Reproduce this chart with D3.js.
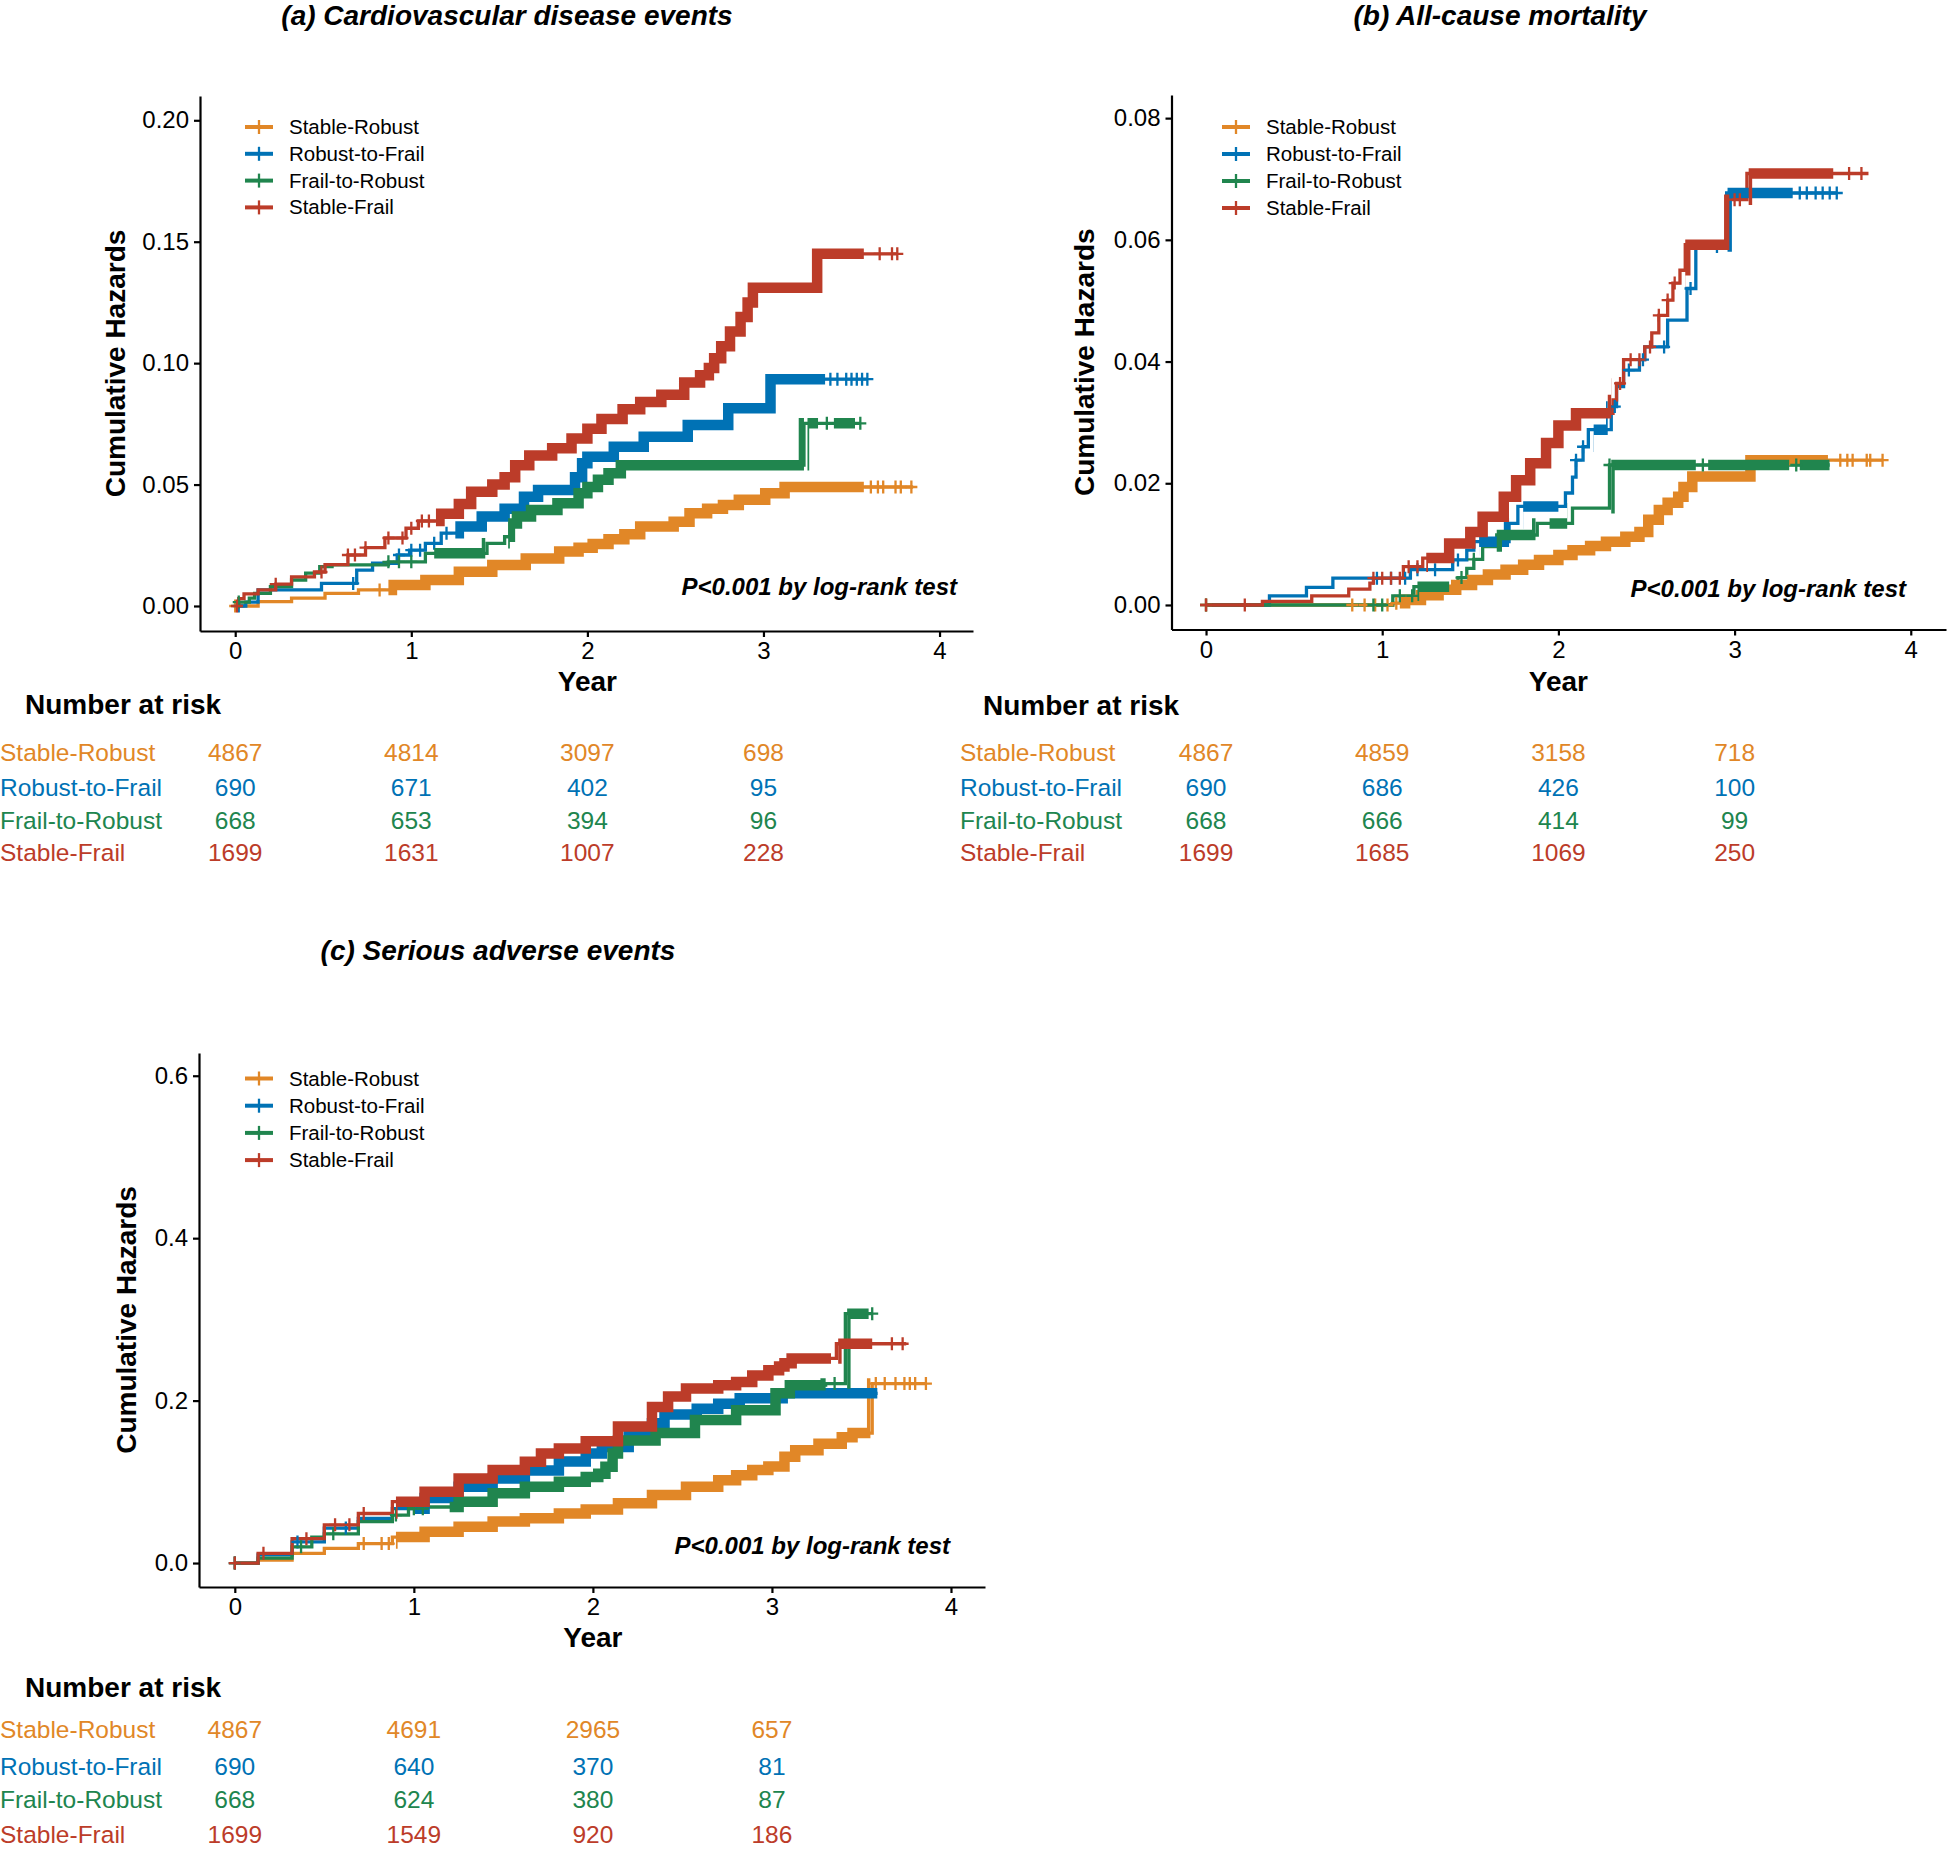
<!DOCTYPE html>
<html>
<head>
<meta charset="utf-8">
<script src="https://cdn.jsdelivr.net/npm/d3@7"></script>
<style>
  body { margin: 0; background: #fff; }
  text { font-family: "Liberation Sans", Arial, Helvetica, sans-serif; }
</style>
</head>
<body>
<div id="chart"></div>
<script>
// groups and tick labels
const groups = ["Stable-Robust", "Robust-to-Frail", "Frail-to-Robust", "Stable-Frail"];
const colors = ["#E18727", "#0072B5", "#20854E", "#BC3C29"];
const years = [0, 1, 2, 3, 4];

// (a) cardiovascular disease events: step points [year, cumulative hazard]
const cvdSR = [[0,0],[0.13,0.0018],[0.32,0.0032],[0.51,0.0052],[0.70,0.0066],[0.89,0.0086],[1.08,0.0107],[1.27,0.0141],[1.46,0.0169],[1.65,0.0196],[1.84,0.0224],[1.95,0.024],[2.03,0.0255],[2.12,0.0275],[2.21,0.0295],[2.30,0.0327],[2.49,0.0347],[2.58,0.0382],[2.68,0.040],[2.77,0.0416],[2.86,0.0437],[3.01,0.0464],[3.12,0.049],[3.85,0.049]];
const cvdRF = [[0,0],[0.06,0.0016],[0.13,0.0066],[0.49,0.0093],[0.69,0.0148],[0.78,0.0176],[0.92,0.021],[0.99,0.023],[1.08,0.0258],[1.17,0.030],[1.27,0.0327],[1.40,0.0368],[1.53,0.040],[1.64,0.045],[1.72,0.0478],[1.93,0.053],[1.97,0.0588],[2.0,0.0615],[2.15,0.0656],[2.32,0.0697],[2.57,0.0745],[2.80,0.0814],[3.04,0.0934],[3.59,0.0934]];
const cvdFR = [[0,0],[0.02,0.0016],[0.08,0.0032],[0.11,0.0052],[0.2,0.008],[0.32,0.0107],[0.40,0.0135],[0.48,0.0162],[0.55,0.0169],[0.87,0.0182],[1.08,0.0217],[1.43,0.0258],[1.53,0.0285],[1.56,0.034],[1.60,0.0368],[1.68,0.0395],[1.83,0.0423],[1.95,0.0464],[2.0,0.049],[2.06,0.052],[2.12,0.0547],[2.19,0.058],[3.23,0.0752],[3.55,0.0752]];
const cvdSF = [[0,0],[0.02,0.003],[0.05,0.005],[0.13,0.0066],[0.23,0.009],[0.32,0.012],[0.45,0.014],[0.51,0.017],[0.64,0.021],[0.74,0.024],[0.85,0.028],[0.97,0.032],[1.04,0.035],[1.16,0.038],[1.27,0.042],[1.34,0.047],[1.46,0.050],[1.53,0.053],[1.59,0.058],[1.67,0.062],[1.80,0.065],[1.91,0.069],[2.00,0.073],[2.08,0.077],[2.20,0.081],[2.30,0.084],[2.42,0.087],[2.55,0.092],[2.64,0.095],[2.69,0.098],[2.72,0.102],[2.76,0.107],[2.81,0.113],[2.87,0.119],[2.91,0.125],[2.94,0.131],[3.305,0.145],[3.76,0.145]];
// censor marks (single) and stretches where marks are packed into a band
const cvdCensor = [
  [0, 0.82, 3.61, 3.65, 3.68, 3.75, 3.78, 3.84],
  [0.02, 0.67, 0.93, 1.0, 1.05, 1.13, 1.2, 3.38, 3.42, 3.47, 3.5, 3.53, 3.56, 3.59],
  [0.02, 0.87, 0.93, 1.0, 3.36, 3.55],
  [0.01, 0.23, 0.49, 0.64, 0.68, 0.74, 0.87, 0.95, 1.0, 1.06, 1.1, 3.66, 3.73, 3.76]
];
const cvdDense = [
  [[0.87, 3.57]],
  [[1.25, 3.35]],
  [[1.13, 1.42], [1.55, 3.23], [3.25, 3.31], [3.4, 3.52]],
  [[1.14, 3.57]]
];
const cvdAtRisk = [[4867, 4814, 3097, 698], [690, 671, 402, 95], [668, 653, 394, 96], [1699, 1631, 1007, 228]];
const cvdYTicks = [0, 0.05, 0.10, 0.15, 0.20];

// (b) all-cause mortality
const acmSR = [[0,0],[1.06,0.0003],[1.13,0.0008],[1.22,0.0016],[1.32,0.0025],[1.42,0.0033],[1.51,0.0041],[1.6,0.005],[1.7,0.0058],[1.8,0.0066],[1.89,0.0074],[2.0,0.0082],[2.08,0.009],[2.18,0.0097],[2.27,0.0104],[2.38,0.0112],[2.46,0.012],[2.51,0.014],[2.57,0.0156],[2.62,0.0168],[2.68,0.0178],[2.71,0.0194],[2.76,0.0211],[3.09,0.0238],[3.84,0.0238]];
const acmRF = [[0,0],[0.36,0.0015],[0.57,0.0029],[0.72,0.0044],[1.16,0.0058],[1.40,0.0074],[1.48,0.009],[1.52,0.0104],[1.72,0.0134],[1.77,0.0162],[2.04,0.0184],[2.08,0.021],[2.10,0.0238],[2.14,0.026],[2.17,0.0288],[2.30,0.0326],[2.33,0.0359],[2.37,0.0386],[2.46,0.0403],[2.49,0.0424],[2.62,0.0468],[2.73,0.052],[2.78,0.0589],[2.955,0.0677],[3.58,0.0677]];
const acmFR = [[0,0],[1.06,0.0015],[1.18,0.003],[1.43,0.0045],[1.48,0.006],[1.52,0.0075],[1.57,0.0096],[1.65,0.0115],[1.88,0.0134],[2.08,0.0159],[2.29,0.023],[3.54,0.023]];
const acmSF = [[0,0],[0.32,0.0006],[0.6,0.0015],[0.81,0.0026],[0.93,0.0036],[0.95,0.0044],[1.12,0.0063],[1.23,0.0077],[1.38,0.0101],[1.5,0.012],[1.57,0.0145],[1.69,0.0178],[1.76,0.0205],[1.84,0.0233],[1.93,0.0266],[2.0,0.0295],[2.1,0.0315],[2.31,0.0337],[2.33,0.0364],[2.37,0.0403],[2.49,0.0424],[2.53,0.0447],[2.57,0.0476],[2.62,0.0501],[2.65,0.0529],[2.69,0.055],[2.72,0.0592],[2.97,0.0666],[3.07,0.0709],[3.76,0.0709]];
const acmCensor = [
  [0, 0.83, 0.9, 0.96, 1.03, 1.08, 3.6, 3.64, 3.67, 3.75, 3.77, 3.84],
  [0.97, 1.05, 1.13, 1.2, 1.3, 1.43, 2.1, 2.14, 2.32, 2.4, 2.48, 2.6, 2.75, 2.9, 3.37, 3.41, 3.46, 3.5, 3.54, 3.58],
  [0, 0.95, 1.0, 1.1, 1.17, 1.45, 1.52, 2.29, 2.82, 3.35],
  [0, 0.22, 0.95, 1.0, 1.05, 1.1, 1.15, 1.2, 2.35, 2.41, 2.46, 2.52, 2.57, 2.62, 2.66, 3.0, 3.03, 3.65, 3.72]
];
const acmDense = [
  [[1.1, 3.53]],
  [[1.55, 1.72], [1.8, 2.0], [2.2, 2.28], [2.96, 3.33]],
  [[1.2, 1.38], [1.65, 1.87], [1.95, 2.05], [2.3, 2.78], [2.85, 3.31], [3.37, 3.54]],
  [[1.25, 2.3], [2.72, 2.97], [3.08, 3.56]]
];
const acmAtRisk = [[4867, 4859, 3158, 718], [690, 686, 426, 100], [668, 666, 414, 99], [1699, 1685, 1069, 250]];
const acmYTicks = [0, 0.02, 0.04, 0.06, 0.08];

// (c) serious adverse events
const saeSR = [[0,0],[0.13,0.0037],[0.32,0.012],[0.5,0.018],[0.69,0.024],[0.88,0.032],[1.06,0.0385],[1.25,0.0447],[1.44,0.051],[1.62,0.055],[1.81,0.061],[1.96,0.066],[2.14,0.0735],[2.33,0.0837],[2.52,0.094],[2.7,0.102],[2.8,0.108],[2.89,0.1145],[2.98,0.119],[3.07,0.131],[3.13,0.139],[3.26,0.147],[3.39,0.155],[3.45,0.16],[3.56,0.221],[3.86,0.221]];
const saeRF = [[0,0],[0.13,0.01],[0.32,0.026],[0.5,0.043],[0.69,0.055],[0.88,0.067],[1.06,0.08],[1.25,0.094],[1.44,0.104],[1.62,0.114],[1.81,0.125],[1.96,0.135],[2.05,0.143],[2.2,0.158],[2.33,0.172],[2.4,0.183],[2.58,0.19],[2.7,0.196],[2.82,0.203],[3.06,0.209],[3.59,0.209]];
const saeFR = [[0,0],[0.13,0.006],[0.32,0.02],[0.43,0.032],[0.5,0.036],[0.69,0.051],[0.88,0.059],[0.97,0.067],[1.06,0.069],[1.25,0.0755],[1.44,0.086],[1.62,0.094],[1.81,0.1],[1.96,0.106],[2.03,0.11],[2.07,0.1185],[2.11,0.135],[2.14,0.151],[2.35,0.16],[2.57,0.176],[2.8,0.188],[3.02,0.209],[3.1,0.219],[3.3,0.221],[3.41,0.307],[3.56,0.307]];
const saeSF = [[0,0],[0.13,0.012],[0.32,0.030],[0.5,0.047],[0.69,0.061],[0.88,0.0755],[1.06,0.0878],[1.25,0.104],[1.44,0.1145],[1.62,0.1247],[1.71,0.135],[1.81,0.141],[1.96,0.15],[2.14,0.168],[2.33,0.192],[2.42,0.205],[2.52,0.215],[2.7,0.219],[2.8,0.223],[2.89,0.231],[2.98,0.2375],[3.04,0.242],[3.07,0.246],[3.11,0.252],[3.36,0.27],[3.75,0.27]];
const saeCensor = [
  [0, 0.72, 0.82, 0.86, 3.58, 3.63, 3.69, 3.74, 3.77, 3.8, 3.86],
  [0, 0.35, 0.62],
  [0, 0.37, 0.55, 0.9, 1.0, 1.05, 3.35, 3.56],
  [0, 0.16, 0.4, 0.56, 0.64, 0.72, 3.67, 3.73]
];
const saeDense = [
  [[0.9, 3.55]],
  [[1.0, 3.59]],
  [[1.2, 3.3], [3.42, 3.54]],
  [[0.9, 3.33], [3.37, 3.56]]
];
const saeAtRisk = [[4867, 4691, 2965, 657], [690, 640, 370, 81], [668, 624, 380, 87], [1699, 1549, 920, 186]];
const saeYTicks = [0, 0.2, 0.4, 0.6];

// layout for each panel
const panels = [
  {
    title: "(a) Cardiovascular disease events",
    steps: [cvdSR, cvdRF, cvdFR, cvdSF], censor: cvdCensor, dense: cvdDense,
    atRisk: cvdAtRisk, yTicks: cvdYTicks, yFmt: ".2f",
    left: 200, right: 973, top: 96, bottom: 631, xDom: [-0.2, 4.19], yDom: [-0.0103, 0.21],
    titleX: 507, titleY: 25, legX: 245, legY: 127, legDy: 26.8, pX: 957, pY: 595,
    ylabX: 115, yearY: 691, labelX: 0, nrX: 25, nrY: 714, rowY: [761, 796, 829, 861]
  },
  {
    title: "(b) All-cause mortality",
    steps: [acmSR, acmRF, acmFR, acmSF], censor: acmCensor, dense: acmDense,
    atRisk: acmAtRisk, yTicks: acmYTicks, yFmt: ".2f",
    left: 1171.5, right: 1946, top: 95, bottom: 629.5, xDom: [-0.196, 4.2], yDom: [-0.00403, 0.0838],
    titleX: 1500, titleY: 25, legX: 1222, legY: 127, legDy: 27, pX: 1906, pY: 597,
    ylabX: 1084, yearY: 691, labelX: 960, nrX: 983, nrY: 715, rowY: [761, 796, 829, 861]
  },
  {
    title: "(c) Serious adverse events",
    steps: [saeSR, saeRF, saeFR, saeSF], censor: saeCensor, dense: saeDense,
    atRisk: saeAtRisk, yTicks: saeYTicks, yFmt: ".1f",
    left: 199, right: 985, top: 1053, bottom: 1587, xDom: [-0.2, 4.19], yDom: [-0.0295, 0.628],
    titleX: 498, titleY: 960, legX: 245, legY: 1078.5, legDy: 27.2, pX: 950, pY: 1554,
    ylabX: 126, yearY: 1647, labelX: 0, nrX: 25, nrY: 1697, rowY: [1738, 1775, 1808, 1843]
  }
];

const FONT = '"Liberation Sans", Arial, Helvetica, sans-serif';
const svg = d3.select("#chart").append("svg")
  .attr("width", 1948)
  .attr("height", 1849);

panels.forEach((p, pi) => drawPanel(p, pi));

function styleAxis(sel) {
  sel.attr("font-family", FONT).attr("font-size", 24);
  sel.selectAll("path, line").attr("stroke", "#000").attr("stroke-width", 2.2);
  sel.selectAll("text").attr("fill", "#000");
}

function drawPanel(p, pi) {
  const x = d3.scaleLinear().domain(p.xDom).range([p.left, p.right]);
  const y = d3.scaleLinear().domain(p.yDom).range([p.bottom, p.top]);
  const g = svg.append("g");
  const line = d3.line().x((d) => x(d[0])).y((d) => y(d[1])).curve(d3.curveStepAfter);
  const bis = d3.bisector((d) => d[0]).right;

  // axes
  g.append("g")
    .attr("transform", `translate(0,${p.bottom})`)
    .call(d3.axisBottom(x).tickValues(years).tickFormat(d3.format("d")).tickSize(6).tickSizeOuter(0).tickPadding(5))
    .call(styleAxis);
  g.append("g")
    .attr("transform", `translate(${p.left},0)`)
    .call(d3.axisLeft(y).tickValues(p.yTicks).tickFormat(d3.format(p.yFmt)).tickSize(6).tickSizeOuter(0).tickPadding(5))
    .call(styleAxis);

  // clip paths for the packed censor stretches
  const defs = g.append("defs");
  p.dense.forEach((ranges, si) => {
    const cp = defs.append("clipPath").attr("id", `band-${pi}-${si}`);
    ranges.forEach((r) => {
      cp.append("rect")
        .attr("x", x(r[0]))
        .attr("width", x(r[1]) - x(r[0]))
        .attr("y", p.top - 30)
        .attr("height", p.bottom - p.top + 30);
    });
  });

  // step lines
  p.steps.forEach((s, si) => {
    g.append("path")
      .datum(s)
      .attr("d", line)
      .attr("fill", "none")
      .attr("stroke", colors[si])
      .attr("stroke-width", 3.3);
  });

  // censor marks
  p.steps.forEach((s, si) => {
    g.append("path")
      .datum(s)
      .attr("d", line)
      .attr("fill", "none")
      .attr("stroke", colors[si])
      .attr("stroke-width", 10.5)
      .attr("clip-path", `url(#band-${pi}-${si})`);
    g.selectAll(null)
      .data(p.censor[si])
      .enter()
      .append("path")
      .attr("d", (t) => {
        const v = s[Math.max(0, bis(s, t) - 1)][1];
        const cx = x(t), cy = y(v);
        return `M${cx - 6},${cy}H${cx + 6}M${cx},${cy - 6.5}V${cy + 6.5}`;
      })
      .attr("stroke", colors[si])
      .attr("stroke-width", 2.3)
      .attr("fill", "none");
  });

  // legend
  groups.forEach((name, si) => {
    const ly = p.legY + si * p.legDy;
    const lg = g.append("g").attr("transform", `translate(${p.legX},${ly})`);
    lg.append("line").attr("x1", 0).attr("x2", 28).attr("y1", 0).attr("y2", 0)
      .attr("stroke", colors[si]).attr("stroke-width", 4);
    lg.append("line").attr("x1", 14).attr("x2", 14).attr("y1", -7).attr("y2", 7)
      .attr("stroke", colors[si]).attr("stroke-width", 2.3);
    lg.append("text").attr("x", 44).attr("y", 7).attr("font-size", 20.5).attr("fill", "#000").text(name);
  });

  // titles and labels
  g.append("text")
    .attr("x", p.titleX).attr("y", p.titleY)
    .attr("text-anchor", "middle")
    .attr("font-size", 28).attr("font-weight", "bold").attr("font-style", "italic")
    .text(p.title);
  g.append("text")
    .attr("x", p.pX).attr("y", p.pY)
    .attr("text-anchor", "end")
    .attr("font-size", 24).attr("font-weight", "bold").attr("font-style", "italic")
    .text("P<0.001 by log-rank test");
  g.append("text")
    .attr("transform", `translate(${p.ylabX},${(p.top + p.bottom) / 2}) rotate(-90)`)
    .attr("text-anchor", "middle").attr("dy", "0.35em")
    .attr("font-size", 28).attr("font-weight", "bold")
    .text("Cumulative Hazards");
  g.append("text")
    .attr("x", x(2)).attr("y", p.yearY)
    .attr("text-anchor", "middle")
    .attr("font-size", 28).attr("font-weight", "bold")
    .text("Year");

  // number at risk table
  g.append("text")
    .attr("x", p.nrX).attr("y", p.nrY)
    .attr("font-size", 28).attr("font-weight", "bold")
    .text("Number at risk");
  groups.forEach((name, si) => {
    g.append("text")
      .attr("x", p.labelX).attr("y", p.rowY[si])
      .attr("font-size", 24.5).attr("fill", colors[si])
      .text(name);
    g.selectAll(null)
      .data(p.atRisk[si])
      .enter()
      .append("text")
      .attr("x", (d, i) => x(years[i]))
      .attr("y", p.rowY[si])
      .attr("text-anchor", "middle")
      .attr("font-size", 24.5).attr("fill", colors[si])
      .text((d) => d);
  });
}
</script>
</body>
</html>
